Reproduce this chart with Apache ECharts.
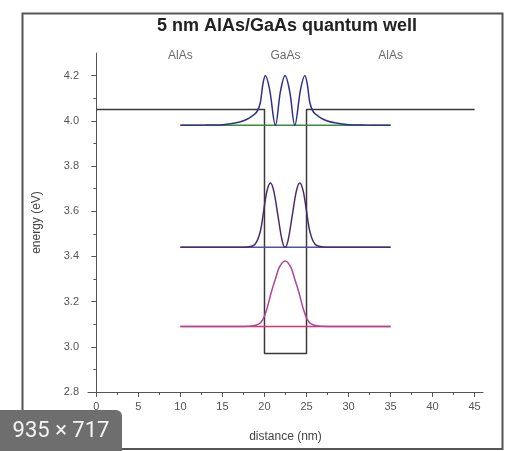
<!DOCTYPE html>
<html>
<head>
<meta charset="utf-8">
<script src="https://cdn.jsdelivr.net/npm/echarts@6/dist/echarts.min.js"></script>
<style>
  html, body { margin: 0; padding: 0; background: #fff; }
  #chart { width: 513px; height: 451px; }
</style>
</head>
<body>
<div id="chart"></div>
<script>
// potential profile of the well (nm, eV)
const wellX = [0, 20, 20, 25, 25, 45]
const wellY = [4.05, 4.05, 2.97, 2.97, 4.05, 4.05]

// bound-state energies and where their lines are drawn
const levelE = [3.09, 3.44, 3.98]
const levelStart = 10
const levelEnd = 35

// |psi|^2 curves, shifted to their level
const psi1X = [10, 17, 18.5, 19.3, 19.8, 20.3, 20.8, 21.3, 21.8, 22.45, 23.1, 23.6, 24.1, 24.6, 25.1, 25.6, 26.4, 28, 35]
const psi1Y = [3.09, 3.09, 3.092, 3.1, 3.12, 3.17, 3.24, 3.3, 3.355, 3.38, 3.355, 3.3, 3.24, 3.17, 3.12, 3.1, 3.092, 3.09, 3.09]
const psi2X = [10, 16, 18, 18.9, 19.5, 19.9, 20.3, 20.7, 21.1, 21.6, 22.1, 22.45, 22.8, 23.3, 23.8, 24.2, 24.6, 25.0, 25.4, 26.0, 27, 29, 35]
const psi2Y = [3.44, 3.44, 3.442, 3.455, 3.51, 3.6, 3.69, 3.725, 3.69, 3.58, 3.47, 3.44, 3.47, 3.58, 3.69, 3.725, 3.69, 3.6, 3.51, 3.455, 3.442, 3.44, 3.44]
const psi3X = [10, 13, 15, 16.5, 17.5, 18.5, 19.1, 19.5, 19.8, 20.1, 20.6, 21.3, 21.9, 22.45, 23.0, 23.6, 24.3, 24.8, 25.1, 25.4, 25.8, 26.4, 27.4, 28.5, 30, 32, 35]
const psi3Y = [3.98, 3.981, 3.983, 3.99, 4.0, 4.02, 4.04, 4.08, 4.16, 4.2, 4.14, 3.98, 4.13, 4.2, 4.13, 3.98, 4.14, 4.2, 4.16, 4.08, 4.04, 4.02, 4.0, 3.99, 3.983, 3.981, 3.98]

// region labels along the top
const regionNames = ['AlAs', 'GaAs', 'AlAs']
const regionX = [10, 22.5, 35]
const regionY = 4.29

// tick positions
const xMajor = [0, 5, 10, 15, 20, 25, 30, 35, 40, 45]
const xMinor = [2.5, 7.5, 12.5, 17.5, 22.5, 27.5, 32.5, 37.5, 42.5]
const yMajor = [2.8, 3.0, 3.2, 3.4, 3.6, 3.8, 4.0, 4.2]
const yMinor = [2.9, 3.1, 3.3, 3.5, 3.7, 3.9, 4.1]

const zip = (xs, ys) => xs.map((x, i) => [x, ys[i]])

const chart = echarts.init(document.getElementById('chart'))

const levelColor = ['#e4306a', '#5050b0', '#3c8c3c']
const psiColor = ['#b0449c', '#4a2c6c', '#30308c']
const psiData = [zip(psi1X, psi1Y), zip(psi2X, psi2Y), zip(psi3X, psi3Y)]

const series = [{
  type: 'line',
  data: zip(wellX, wellY),
  symbol: 'none',
  lineStyle: { color: '#3a3a3a', width: 1.5 },
  z: 2
}]
levelE.forEach((e, i) => {
  series.push({
    type: 'line',
    data: [[levelStart, e], [levelEnd, e]],
    symbol: 'none',
    lineStyle: { color: levelColor[i], width: 1.5 },
    z: 3
  })
})
psiData.forEach((d, i) => {
  series.push({
    type: 'line',
    data: d,
    symbol: 'none',
    smooth: 0.35,
    lineStyle: { color: psiColor[i], width: 1.5 },
    z: 4
  })
})
series.push({
  type: 'scatter',
  data: regionNames.map((n, i) => ({ name: n, value: [regionX[i], regionY] })),
  symbolSize: 2,
  itemStyle: { color: 'rgba(0,0,0,0)' },
  label: {
    show: true,
    position: 'inside',
    formatter: p => p.name,
    color: '#444',
    fontSize: 12,
    fontFamily: 'Liberation Sans'
  },
  z: 5
})

const axisCommon = {
  type: 'value',
  splitLine: { show: false }
}

const option = {
  animation: false,
  backgroundColor: '#fff',
  grid: { left: 88, right: 30, top: 53, bottom: 59 },
  xAxis: [{
    ...axisCommon,
    min: -1,
    max: 46,
    name: 'distance (nm)',
    nameLocation: 'middle',
    nameGap: 39,
    nameTextStyle: { color: '#444', fontSize: 12, fontFamily: 'Liberation Sans' },
    axisLine: { lineStyle: { color: '#555', width: 1 } },
    axisTick: { show: true, length: 5, lineStyle: { color: '#555' }, customValues: xMajor },
    axisLabel: { color: '#555', fontSize: 11, margin: 9, fontFamily: 'Liberation Sans', customValues: xMajor }
  }, {
    ...axisCommon,
    min: -1,
    max: 46,
    position: 'bottom',
    axisLine: { show: false },
    axisLabel: { show: false },
    axisTick: { show: true, length: 3, lineStyle: { color: '#555' }, customValues: xMinor }
  }],
  yAxis: [{
    ...axisCommon,
    min: 2.8,
    max: 4.3,
    name: 'energy (eV)',
    nameLocation: 'middle',
    nameGap: 45,
    nameTextStyle: { color: '#444', fontSize: 12, fontFamily: 'Liberation Sans' },
    axisLine: { show: true, lineStyle: { color: '#555', width: 1 } },
    axisTick: { show: true, length: 5, lineStyle: { color: '#555' }, customValues: yMajor },
    axisLabel: {
      color: '#555', fontSize: 11, margin: 9, fontFamily: 'Liberation Sans',
      customValues: yMajor,
      formatter: v => v.toFixed(1)
    }
  }, {
    ...axisCommon,
    min: 2.8,
    max: 4.3,
    position: 'left',
    axisLine: { show: false },
    axisLabel: { show: false },
    axisTick: { show: true, length: 3, lineStyle: { color: '#555' }, customValues: yMinor }
  }],
  graphic: [{
    type: 'rect',
    shape: { x: 22.5, y: 13.5, width: 480, height: 435.5 },
    style: { fill: null, stroke: '#555', lineWidth: 2 },
    z: 0
  }, {
    type: 'text',
    x: 287,
    y: 26,
    style: {
      text: '5 nm AlAs/GaAs quantum well',
      fill: '#222',
      font: 'bold 18px "Liberation Sans"',
      textAlign: 'center',
      textVerticalAlign: 'middle'
    }
  }, {
    type: 'rect',
    shape: { x: 0, y: 410, width: 122, height: 41, r: [0, 6, 0, 0] },
    style: { fill: '#6e6e6e' },
    z: 10
  }, {
    type: 'text',
    x: 61,
    y: 431,
    style: {
      text: '935 × 717',
      fill: '#f4f4f4',
      font: '22px Roboto',
      textAlign: 'center',
      textVerticalAlign: 'middle'
    },
    z: 11
  }],
  series: series
}

chart.setOption(option)
</script>
</body>
</html>
